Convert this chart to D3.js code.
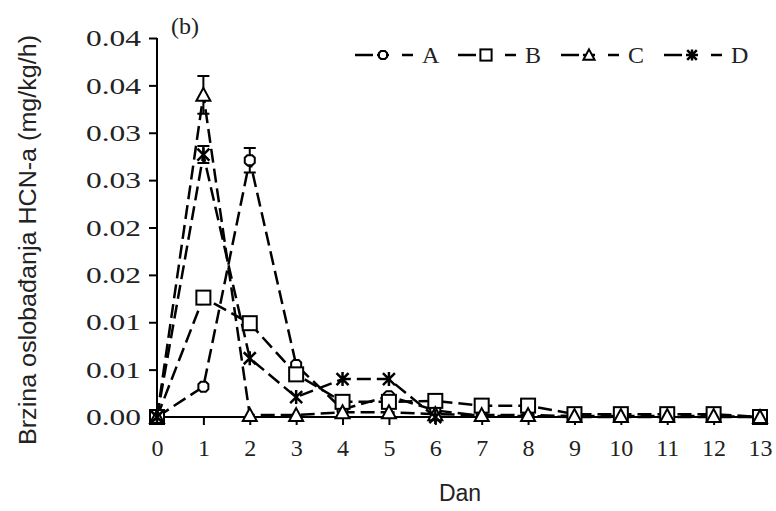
<!DOCTYPE html>
<html>
<head>
<meta charset="utf-8">
<script src="https://cdn.jsdelivr.net/npm/d3@7"></script>
<style>
  body { margin: 0; background: #fff; }
  text { fill: #222; }
</style>
</head>
<body>
<div id="chart"></div>
<script>
// days on the x axis
const days = [0, 1, 2, 3, 4, 5, 6, 7, 8, 9, 10, 11, 12, 13];

// HCN release rate (mg/kg/h)
const seriesA = [0, 0.0032, 0.0271, 0.0055, 0.0008, 0.0022, 0.0007, 0.0001, 0.0001, 0.0000, 0.0000, 0.0000, 0.0000, 0.0000];
const seriesB = [0, 0.0126, 0.0099, 0.0045, 0.0016, 0.0016, 0.0017, 0.0012, 0.0012, 0.0003, 0.0003, 0.0003, 0.0003, 0.0000];
const seriesC = [0, 0.0340, 0.0002, 0.0002, 0.0005, 0.0005, 0.0003, 0.0002, 0.0002, 0.0001, 0.0001, 0.0001, 0.0001, 0.0000];
const seriesD = [0, 0.0277, 0.0062, 0.0021, 0.0040, 0.0040, 0.0000];

// error bars (only the visible ones)
const errA = [0, 0, 0.0013];
const errC = [0, 0.0020];
const errD = [0, 0.0009];

const seriesNames = ['A', 'B', 'C', 'D'];
const markerTypes = ['circle', 'square', 'triangle', 'star'];

const yTickValues = [0, 0.005, 0.01, 0.015, 0.02, 0.025, 0.03, 0.035, 0.04];
const yTickLabels = ['0.00', '0.01', '0.01', '0.02', '0.02', '0.03', '0.03', '0.04', '0.04'];

const width = 776, height = 511;
const serif = "'Liberation Serif', 'DejaVu Serif', serif";
const sans = "'Liberation Sans', 'DejaVu Sans', sans-serif";

const svg = d3.select('#chart').append('svg')
    .attr('width', width)
    .attr('height', height);

const x = d3.scaleLinear().domain([0, 13]).range([157, 760]);
const y = d3.scaleLinear().domain([0, 0.04]).range([417, 38]);

// axes
const yAxis = d3.axisLeft(y)
    .tickValues(yTickValues)
    .tickFormat((d, i) => yTickLabels[i])
    .tickSize(8)
    .tickPadding(8);

svg.append('g')
    .attr('transform', `translate(${x(0)},0)`)
    .call(yAxis)
    .call(g => g.select('.domain').attr('d', `M0,${y(0.04)}V${y(0)}`).attr('stroke-width', 2))
    .call(g => g.selectAll('.tick line').attr('stroke-width', 2))
    .call(g => g.selectAll('.tick text')
        .attr('font-family', serif)
        .attr('font-size', 24)
        .attr('textLength', 55)
        .attr('lengthAdjust', 'spacingAndGlyphs')
        .attr('fill', '#222'));

const xAxis = d3.axisBottom(x)
    .tickValues(days)
    .tickSize(8)
    .tickPadding(14);

svg.append('g')
    .attr('transform', `translate(0,${y(0)})`)
    .call(xAxis)
    .call(g => g.select('.domain').attr('d', `M${x(0)},0H768`).attr('stroke-width', 2))
    .call(g => g.selectAll('.tick line').attr('stroke-width', 2))
    .call(g => g.selectAll('.tick text')
        .attr('font-family', serif)
        .attr('font-size', 24)
        .attr('fill', '#222'));

// axis titles
svg.append('text')
    .attr('transform', `translate(36,${240}) rotate(-90)`)
    .attr('text-anchor', 'middle')
    .attr('font-family', sans)
    .attr('font-size', 23)
    .attr('textLength', 410)
    .attr('lengthAdjust', 'spacingAndGlyphs')
    .text('Brzina oslobađanja HCN-a (mg/kg/h)');

svg.append('text')
    .attr('x', 460)
    .attr('y', 501)
    .attr('text-anchor', 'middle')
    .attr('font-family', sans)
    .attr('font-size', 23)
    .text('Dan');

svg.append('text')
    .attr('x', 171)
    .attr('y', 34)
    .attr('font-family', serif)
    .attr('font-size', 24)
    .text('(b)');

// markers
function drawMarker(sel, type, s = 1) {
  if (type === 'circle') {
    sel.append('path')
        .attr('d', 'M-2.5,-5L2.5,-5L5,-2.5L5,2.5L2.5,5L-2.5,5L-5,2.5L-5,-2.5Z')
        .attr('transform', `scale(${s})`)
        .attr('fill', '#fff').attr('stroke', '#000').attr('stroke-width', 2 / s);
  } else if (type === 'square') {
    sel.append('rect')
        .attr('x', -7 * s).attr('y', -7 * s).attr('width', 14 * s).attr('height', 14 * s)
        .attr('fill', '#fff').attr('stroke', '#000').attr('stroke-width', 2);
  } else if (type === 'triangle') {
    sel.append('path')
        .attr('d', 'M0,-7L7,6L-7,6Z')
        .attr('transform', `scale(${s})`)
        .attr('fill', '#fff').attr('stroke', '#000').attr('stroke-width', 2 / s);
  } else {
    sel.append('path')
        .attr('d', 'M-6,-6L6,6M-6,6L6,-6M0,-7V7')
        .attr('transform', `scale(${s})`)
        .attr('fill', 'none').attr('stroke', '#000').attr('stroke-width', 2.5 / s);
  }
}

const allSeries = [seriesA, seriesB, seriesC, seriesD];
const allErr = [errA, [], errC, errD];

const line = d3.line()
    .x((d, i) => x(days[i]))
    .y(d => y(d));

const plot = svg.append('g');

allSeries.forEach((vals, k) => {
  plot.append('path')
      .datum(vals)
      .attr('d', line)
      .attr('fill', 'none')
      .attr('stroke', '#000')
      .attr('stroke-width', 2.5)
      .attr('stroke-dasharray', '14,6');
});

// error bars
allSeries.forEach((vals, k) => {
  allErr[k].forEach((e, i) => {
    if (!e) return;
    const cx = x(days[i]);
    plot.append('path')
        .attr('d', `M${cx},${y(vals[i] - e)}V${y(vals[i] + e)}M${cx - 6},${y(vals[i] + e)}H${cx + 6}M${cx - 6},${y(vals[i] - e)}H${cx + 6}`)
        .attr('fill', 'none')
        .attr('stroke', '#000')
        .attr('stroke-width', 2);
  });
});

allSeries.forEach((vals, k) => {
  plot.selectAll(null)
    .data(vals)
    .join('g')
      .attr('transform', (d, i) => `translate(${x(days[i])},${y(d)})`)
      .each(function() { drawMarker(d3.select(this), markerTypes[k]); });
});

// legend
const legend = svg.append('g').attr('transform', 'translate(355,55)');
seriesNames.forEach((name, k) => {
  const g = legend.append('g').attr('transform', `translate(${k * 103},0)`);
  g.append('path')
      .attr('d', 'M0,0H18M22,0H34M47,0H58')
      .attr('stroke', '#000')
      .attr('stroke-width', 2.5);
  g.append('g').attr('transform', 'translate(28,0)').call(s => drawMarker(s, markerTypes[k], 0.8));
  g.append('text')
      .attr('x', 67)
      .attr('y', 8)
      .attr('font-family', serif)
      .attr('font-size', 24)
      .text(name);
});
</script>
</body>
</html>
